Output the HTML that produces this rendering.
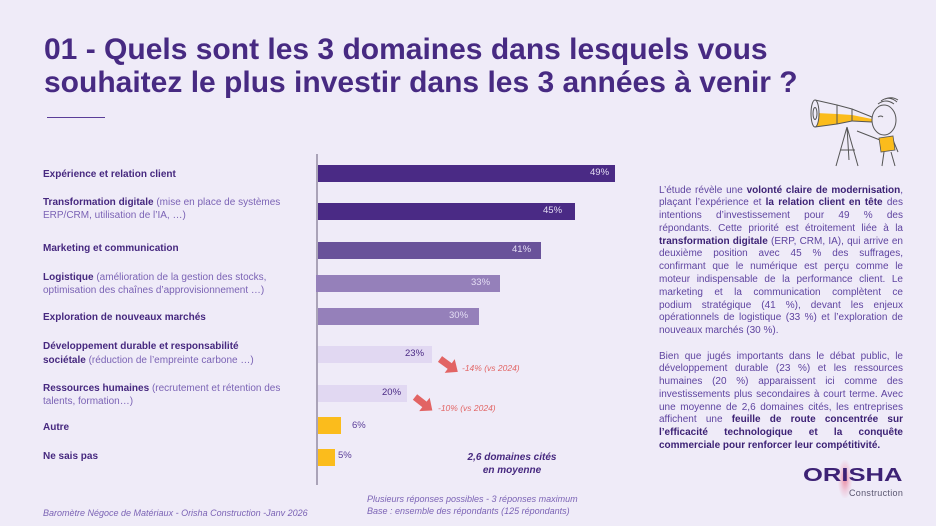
<!DOCTYPE html>
<html lang="fr">
<head>
<meta charset="utf-8">
<style>
  html,body{margin:0;padding:0;}
  body{width:936px;height:526px;background:#efebf8;position:relative;overflow:hidden;font-family:"Liberation Sans",sans-serif;}
  .a{position:absolute;white-space:nowrap;}
  .title{left:44px;top:33px;font-size:30px;line-height:33px;font-weight:bold;color:#472a82;}
  .lbl{left:43px;font-size:10px;line-height:13.5px;color:#7b63b5;}
  .lbl b{color:#46287f;}
  .bar{position:absolute;height:17px;}
  .bv{position:absolute;font-size:9.5px;line-height:17px;}
  .p{position:absolute;left:659px;width:244px;font-size:10px;line-height:12.8px;color:#5f44a0;}
  .p div{text-align:justify;text-align-last:justify;white-space:nowrap;}
  .p div.l{text-align-last:left;}
  .p b{color:#3d2275;}
  .note{font-size:9px;line-height:12px;font-style:italic;color:#7b63b5;}
</style>
</head>
<body>

<div class="a title">01 - Quels sont les 3 domaines dans lesquels vous<br>souhaitez le plus investir dans les 3 années à venir ?</div>
<div class="a" style="left:47px;top:117px;width:58px;height:1px;background:#5a3d98;"></div>

<!-- illustration -->
<svg class="a" style="left:800px;top:88px;" width="120" height="85" viewBox="800 88 120 85">
  <g fill="none" stroke="#555" stroke-width="1" stroke-linejoin="round">
    <path d="M816,113 L837,114 L852,115 L872,119 L872,122 L852,121 L837,124 L816,127 Z" fill="#fbbc1c" stroke="none"/>
    <path d="M815,100 L837,105 L837,124 L815,127"/>
    <path d="M837,105 L852,109 L852,121 L837,124"/>
    <path d="M852,109 L872,117 L872,122 L852,121"/>
    <ellipse cx="815" cy="113.5" rx="4" ry="13.5" fill="#efebf8"/>
    <ellipse cx="815" cy="113.5" rx="2" ry="6"/>
    <path d="M847,127 L836,166 M847,127 L858,166 M847,127 L849,160 M840,150 L855,150"/>
    <ellipse cx="884" cy="120" rx="12" ry="15" fill="#efebf8"/>
    <path d="M878,104 Q886,98 894,104 M881,101 Q889,95 897,102 M885,99 Q892,96 898,100"/>
    <path d="M878,117 q3,-2 5,0"/>
    <path d="M880,140 L857,131 M893,140 L898,152"/>
    <path d="M884,152 L882,166 M891,152 L895,166"/>
  </g>
  <path d="M879,138 L893,136 L895,150 L881,152 Z" fill="#fbbc1c" stroke="#555" stroke-width="0.8"/>
</svg>

<!-- axis -->
<div class="a" style="left:316px;top:154px;width:2px;height:331px;background:#aaa3b8;"></div>

<!-- bars -->
<div class="bar" style="left:318px;top:165px;width:297px;background:#4a2a85;"></div>
<div class="bar" style="left:318px;top:203px;width:257px;background:#4a2a85;"></div>
<div class="bar" style="left:318px;top:242px;width:223px;background:#69529a;"></div>
<div class="bar" style="left:316px;top:275px;width:184px;background:#9580ba;"></div>
<div class="bar" style="left:318px;top:308px;width:161px;background:#9580ba;"></div>
<div class="bar" style="left:318px;top:346px;width:114px;background:#e1d8f2;"></div>
<div class="bar" style="left:318px;top:385px;width:89px;background:#e1d8f2;"></div>
<div class="bar" style="left:318px;top:417px;width:23px;background:#fbbc1c;"></div>
<div class="bar" style="left:318px;top:449px;width:17px;background:#fbbc1c;"></div>

<!-- bar values -->
<div class="bv" style="left:590px;top:164px;color:#e3dcf3;">49%</div>
<div class="bv" style="left:543px;top:202px;color:#e3dcf3;">45%</div>
<div class="bv" style="left:512px;top:241px;color:#e3dcf3;">41%</div>
<div class="bv" style="left:471px;top:274px;color:#e3dcf3;">33%</div>
<div class="bv" style="left:449px;top:307px;color:#e3dcf3;">30%</div>
<div class="bv" style="left:405px;top:345px;color:#4a2a85;">23%</div>
<div class="bv" style="left:382px;top:384px;color:#4a2a85;">20%</div>
<div class="bv" style="left:352px;top:417px;color:#5a3d98;">6%</div>
<div class="bv" style="left:338px;top:447px;color:#5a3d98;">5%</div>

<!-- arrows -->
<svg class="a" style="left:0;top:0;" width="936" height="526">
  <g transform="translate(440,359) rotate(36)" fill="#e26464">
    <polygon points="0,-3.5 12,-3.5 12,-8.5 22,0 12,8.5 12,3.5 0,3.5"/>
  </g>
  <g transform="translate(415,397) rotate(38)" fill="#e26464">
    <polygon points="0,-3.5 12,-3.5 12,-8.5 22,0 12,8.5 12,3.5 0,3.5"/>
  </g>
</svg>
<div class="a" style="left:462px;top:362px;font-size:8.5px;line-height:12px;font-style:italic;color:#e26464;">-14% (vs 2024)</div>
<div class="a" style="left:438px;top:402px;font-size:8.5px;line-height:12px;font-style:italic;color:#e26464;">-10% (vs 2024)</div>

<!-- labels -->
<div class="a lbl" style="top:167.5px;"><b>Expérience et relation client</b></div>
<div class="a lbl" style="top:196px;line-height:13px;"><b>Transformation digitale</b> (mise en place de systèmes<br>ERP/CRM, utilisation de l’IA, …)</div>
<div class="a lbl" style="top:241.5px;"><b>Marketing et communication</b></div>
<div class="a lbl" style="top:271px;line-height:13px;"><b>Logistique</b> (amélioration de la gestion des stocks,<br>optimisation des chaînes d’approvisionnement …)</div>
<div class="a lbl" style="top:310.5px;"><b>Exploration de nouveaux marchés</b></div>
<div class="a lbl" style="top:340px;"><b>Développement durable et responsabilité<br>sociétale</b> (réduction de l’empreinte carbone …)</div>
<div class="a lbl" style="top:382px;line-height:13px;"><b>Ressources humaines</b> (recrutement et rétention des<br>talents, formation…)</div>
<div class="a lbl" style="top:420.5px;"><b>Autre</b></div>
<div class="a lbl" style="top:449.5px;"><b>Ne sais pas</b></div>

<!-- average -->
<div class="a" style="left:442px;top:451px;width:140px;text-align:center;font-size:10px;line-height:13px;font-weight:bold;font-style:italic;color:#46287f;">2,6 domaines cités<br>en moyenne</div>

<!-- notes -->
<div class="a note" style="left:367px;top:493px;">Plusieurs réponses possibles - 3 réponses maximum<br>Base : ensemble des répondants (125 répondants)</div>
<div class="a note" style="left:43px;top:507px;">Baromètre Négoce de Matériaux - Orisha Construction -Janv 2026</div>

<!-- right text -->
<div class="p" style="top:184.5px;">
  <div>L’étude révèle une <b>volonté claire de modernisation</b>,</div>
  <div>plaçant l’expérience et <b>la relation client en tête</b> des</div>
  <div>intentions d’investissement pour 49 % des</div>
  <div>répondants. Cette priorité est étroitement liée à la</div>
  <div><b>transformation digitale</b> (ERP, CRM, IA), qui arrive en</div>
  <div>deuxième position avec 45 % des suffrages,</div>
  <div>confirmant que le numérique est perçu comme le</div>
  <div>moteur indispensable de la performance client. Le</div>
  <div>marketing et la communication complètent ce</div>
  <div>podium stratégique (41 %), devant les enjeux</div>
  <div>opérationnels de logistique (33 %) et l’exploration de</div>
  <div class="l">nouveaux marchés (30 %).</div>
</div>
<div class="p" style="top:350.5px;">
  <div>Bien que jugés importants dans le débat public, le</div>
  <div>développement durable (23 %) et les ressources</div>
  <div>humaines (20 %) apparaissent ici comme des</div>
  <div>investissements plus secondaires à court terme. Avec</div>
  <div>une moyenne de 2,6 domaines cités, les entreprises</div>
  <div>affichent une <b>feuille de route concentrée sur</b></div>
  <div><b>l’efficacité technologique et la conquête</b></div>
  <div class="l"><b>commerciale pour renforcer leur compétitivité.</b></div>
</div>

<!-- logo -->
<div class="a" style="left:838px;top:460px;width:14px;height:38px;background:radial-gradient(ellipse at center, rgba(230,60,90,0.55) 0%, rgba(240,120,150,0.25) 45%, rgba(239,235,248,0) 75%);"></div>
<div class="a" style="left:803px;top:464px;font-size:18px;line-height:22px;font-weight:bold;color:#3d2275;transform:scaleX(1.42);transform-origin:0 0;">ORISHA</div>
<div class="a" style="left:849px;top:487px;font-size:9px;line-height:12px;color:#5a5670;letter-spacing:0.3px;">Construction</div>

</body>
</html>
